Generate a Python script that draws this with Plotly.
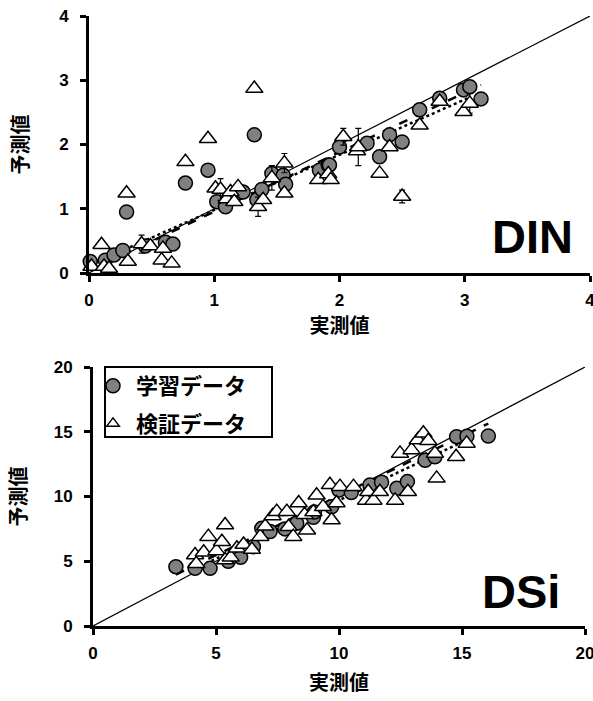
import plotly.graph_objects as go

# ---------------- DATA ----------------
din_train_x = [0.01, 0.13, 0.20, 0.27, 0.30, 0.45, 0.61, 0.67, 0.77, 0.95, 1.02, 1.09, 1.23, 1.32, 1.34,
               1.38, 1.46, 1.55, 1.57, 1.84, 1.91, 1.92, 2.00, 2.22, 2.32, 2.40, 2.50, 2.64, 2.80, 2.99,
               3.04, 3.13]
din_train_y = [0.18, 0.20, 0.28, 0.35, 0.95, 0.42, 0.48, 0.45, 1.40, 1.60, 1.11, 1.03, 1.26, 2.15, 1.14,
               1.30, 1.55, 1.52, 1.38, 1.60, 1.68, 1.68, 1.96, 2.02, 1.81, 2.15, 2.04, 2.54, 2.72, 2.85,
               2.90, 2.71]
din_val_x = [0.02, 0.10, 0.12, 0.16, 0.30, 0.31, 0.42, 0.49, 0.58, 0.59, 0.66, 0.77, 0.95, 1.01, 1.05,
             1.10, 1.13, 1.16, 1.19, 1.32, 1.35, 1.39, 1.46, 1.56, 1.56, 1.83, 1.91, 1.93, 2.03, 2.14,
             2.15, 2.32, 2.40, 2.50, 2.64, 2.80, 2.99, 3.04]
din_val_y = [0.10, 0.44, 0.10, 0.07, 1.24, 0.18, 0.45, 0.42, 0.20, 0.38, 0.15, 1.73, 2.09, 1.32, 1.30,
             1.15, 1.26, 1.11, 1.34, 2.87, 1.03, 1.14, 1.48, 1.71, 1.24, 1.45, 1.54, 1.45, 2.12, 1.90,
             1.96, 1.55, 1.96, 1.19, 2.30, 2.67, 2.51, 2.64]
din_val_err = [0, 0, 0, 0, 0, 0, 0.14, 0, 0, 0, 0, 0, 0, 0, 0.17,
               0, 0, 0, 0, 0, 0.15, 0, 0.19, 0.15, 0, 0, 0, 0, 0.13, 0,
               0.29, 0, 0, 0.10, 0, 0, 0, 0.15]
din_fit_train = [0.925, 0.03]   # slope, intercept (dashed)
din_fit_val = [0.86, 0.12]      # slope, intercept (dotted)

dsi_train_x = [3.37, 4.15, 4.76, 5.5, 6.0, 6.52, 6.86, 7.2, 7.8, 8.28, 8.96, 9.0, 9.70, 10.0, 10.5,
               11.26, 11.73, 12.35, 12.78, 13.5, 13.9, 14.78, 15.2, 16.07]
dsi_train_y = [4.58, 4.45, 4.45, 5.0, 5.3, 6.12, 7.54, 7.3, 7.5, 7.93, 8.4, 8.8, 9.21, 10.5, 10.3,
               10.89, 11.1, 10.63, 11.15, 12.8, 13.07, 14.62, 14.65, 14.67]
dsi_val_x = [4.15, 4.2, 4.5, 4.69, 5.02, 5.24, 5.37, 5.37, 5.6, 5.85, 6.12, 6.46, 6.8, 7.0, 7.3, 7.47,
             7.88, 7.95, 8.14, 8.36, 8.6, 8.7, 8.96, 9.09, 9.35, 9.63, 9.70, 9.9, 10.04, 10.59, 11.1,
             11.19, 11.4, 11.66, 12.28, 12.48, 12.8, 12.95, 13.2, 13.43, 13.63, 13.9, 13.97, 14.76, 15.19]
dsi_val_y = [5.48, 4.8, 5.7, 6.9, 5.8, 6.5, 7.8, 5.1, 5.3, 6.0, 6.3, 5.9, 6.9, 7.7, 8.5, 8.83,
             8.83, 7.67, 6.9, 9.5, 8.6, 7.4, 8.8, 10.1, 9.2, 10.9, 8.19, 9.5, 10.76, 10.76, 9.7,
             10.37, 9.7, 10.37, 9.7, 13.33, 10.37, 13.6, 14.36, 14.88, 14.3, 13.33, 11.4, 13.07, 14.1]
dsi_fit_train = [0.918, 0.88]
dsi_fit_val = [0.90, 0.70]

din_range = [0, 4]
dsi_range = [0, 20]
din_ticks = [0, 1, 2, 3, 4]
dsi_ticks = [0, 5, 10, 15, 20]

legend_names = ["学習データ", "検証データ"]
axis_x_title = "実測値"
axis_y_title = "予測値"
panel_labels = ["DIN", "DSi"]

# ---------------- FIGURE ----------------
W, H = 593, 701
FONT = "Liberation Sans, Arial, Noto Sans CJK JP"
CJK = "Noto Sans CJK JP, Liberation Sans"

fig = go.Figure()

circle_marker = dict(symbol="circle", size=14, color="#808080", line=dict(color="black", width=1.5))
tri_marker = dict(symbol="triangle-up", size=15, color="white", line=dict(color="black", width=1.5))


def add_panel(xa, ya, tx, ty, vx, vy, fit_t, fit_v, rng, verr=None):
    fig.add_trace(go.Scatter(x=rng, y=rng, mode="lines", line=dict(color="black", width=1.2),
                             xaxis=xa, yaxis=ya, showlegend=False, hoverinfo="skip", cliponaxis=False))
    x0, x1 = min(tx), max(tx)
    fig.add_trace(go.Scatter(x=[x0, x1], y=[fit_t[0] * x0 + fit_t[1], fit_t[0] * x1 + fit_t[1]],
                             mode="lines", line=dict(color="black", width=2.5, dash="dash"),
                             xaxis=xa, yaxis=ya, showlegend=False))
    x0, x1 = min(vx), max(vx)
    fig.add_trace(go.Scatter(x=[x0, x1], y=[fit_v[0] * x0 + fit_v[1], fit_v[0] * x1 + fit_v[1]],
                             mode="lines", line=dict(color="black", width=2.5, dash="dot"),
                             xaxis=xa, yaxis=ya, showlegend=False))
    fig.add_trace(go.Scatter(x=tx, y=ty, mode="markers", marker=circle_marker, name=legend_names[0],
                             xaxis=xa, yaxis=ya, showlegend=False, cliponaxis=False))
    err = None
    if verr is not None:
        err = dict(type="data", array=verr, visible=True, color="black", thickness=1.2, width=3)
    fig.add_trace(go.Scatter(x=vx, y=vy, mode="markers", marker=tri_marker, name=legend_names[1],
                             error_y=err, xaxis=xa, yaxis=ya, showlegend=False, cliponaxis=False))


add_panel("x", "y", din_train_x, din_train_y, din_val_x, din_val_y, din_fit_train, din_fit_val,
          din_range, din_val_err)
add_panel("x2", "y2", dsi_train_x, dsi_train_y, dsi_val_x, dsi_val_y, dsi_fit_train, dsi_fit_val,
          dsi_range)

# legend-only entries (smaller symbols, like the glyphs in the reference key)
fig.add_trace(go.Scatter(x=[None], y=[None], mode="markers", name=legend_names[0], legendgroup="a",
                         marker=dict(symbol="circle", size=14, color="#808080",
                                     line=dict(color="black", width=1.5)),
                         xaxis="x2", yaxis="y2"))
fig.add_trace(go.Scatter(x=[None], y=[None], mode="markers", name=legend_names[1], legendgroup="b",
                         marker=dict(symbol="triangle-up", size=11, color="white",
                                     line=dict(color="black", width=1.5)),
                         xaxis="x2", yaxis="y2"))

axis_common = dict(showline=True, linecolor="black", linewidth=3, ticks="outside", ticklen=6,
                   tickwidth=2.5, tickcolor="black", showgrid=False, zeroline=False,
                   tickfont=dict(family=FONT, size=17, color="black", weight="bold"),
                   mirror=False, fixedrange=True, automargin=False, ticklabeloverflow="allow")

title_font = dict(family=CJK, size=20, color="black", weight="bold")


def px_x(a, b):
    return [a / W, b / W]


def px_y(top, bottom):
    return [(H - bottom) / H, (H - top) / H]


fig.update_layout(
    width=W, height=H,
    margin=dict(l=0, r=0, t=0, b=0, autoexpand=False),
    paper_bgcolor="white", plot_bgcolor="white",
    xaxis=dict(domain=px_x(89, 590), range=din_range, tickvals=din_ticks, anchor="y",
               ticklabelstandoff=4,
               title=dict(text=axis_x_title, font=title_font, standoff=4), **axis_common),
    yaxis=dict(domain=px_y(16, 273), range=din_range, tickvals=din_ticks, anchor="x",
               ticklabelstandoff=8,
               title=dict(text=axis_y_title, font=title_font, standoff=26), **axis_common),
    xaxis2=dict(domain=px_x(93, 585), range=dsi_range, tickvals=dsi_ticks, anchor="y2",
                ticklabelstandoff=4,
                title=dict(text=axis_x_title, font=title_font, standoff=14), **axis_common),
    yaxis2=dict(domain=px_y(367, 626), range=dsi_range, tickvals=dsi_ticks, anchor="x2",
                ticklabelstandoff=8,
                title=dict(text=axis_y_title, font=title_font, standoff=22), **axis_common),
    legend=dict(x=(105 - 15) / W, y=(H - 365) / H, xanchor="left", yanchor="top",
                borderwidth=0, bgcolor="rgba(0,0,0,0)",
                font=dict(family=CJK, size=22, color="black", weight="bold"),
                itemwidth=36, tracegroupgap=6, itemsizing="trace"),
    showlegend=True,
    shapes=[dict(type="rect", xref="paper", yref="paper", x0=105 / W, x1=272 / W,
                 y0=(H - 437) / H, y1=(H - 367) / H, line=dict(color="black", width=2),
                 fillcolor="white", layer="below")],
    annotations=[
        dict(text=panel_labels[0], xref="paper", yref="paper", x=575 / W, y=(H - 265) / H,
             xanchor="right", yanchor="bottom", showarrow=False,
             font=dict(family=FONT, size=47, color="black", weight="bold")),
        dict(text=panel_labels[1], xref="paper", yref="paper", x=562 / W, y=(H - 620) / H,
             xanchor="right", yanchor="bottom", showarrow=False,
             font=dict(family=FONT, size=47, color="black", weight="bold")),
    ],
)

fig.write_html("out.html", config={"displayModeBar": False},
               post_script="document.body.style.margin='0px';")
